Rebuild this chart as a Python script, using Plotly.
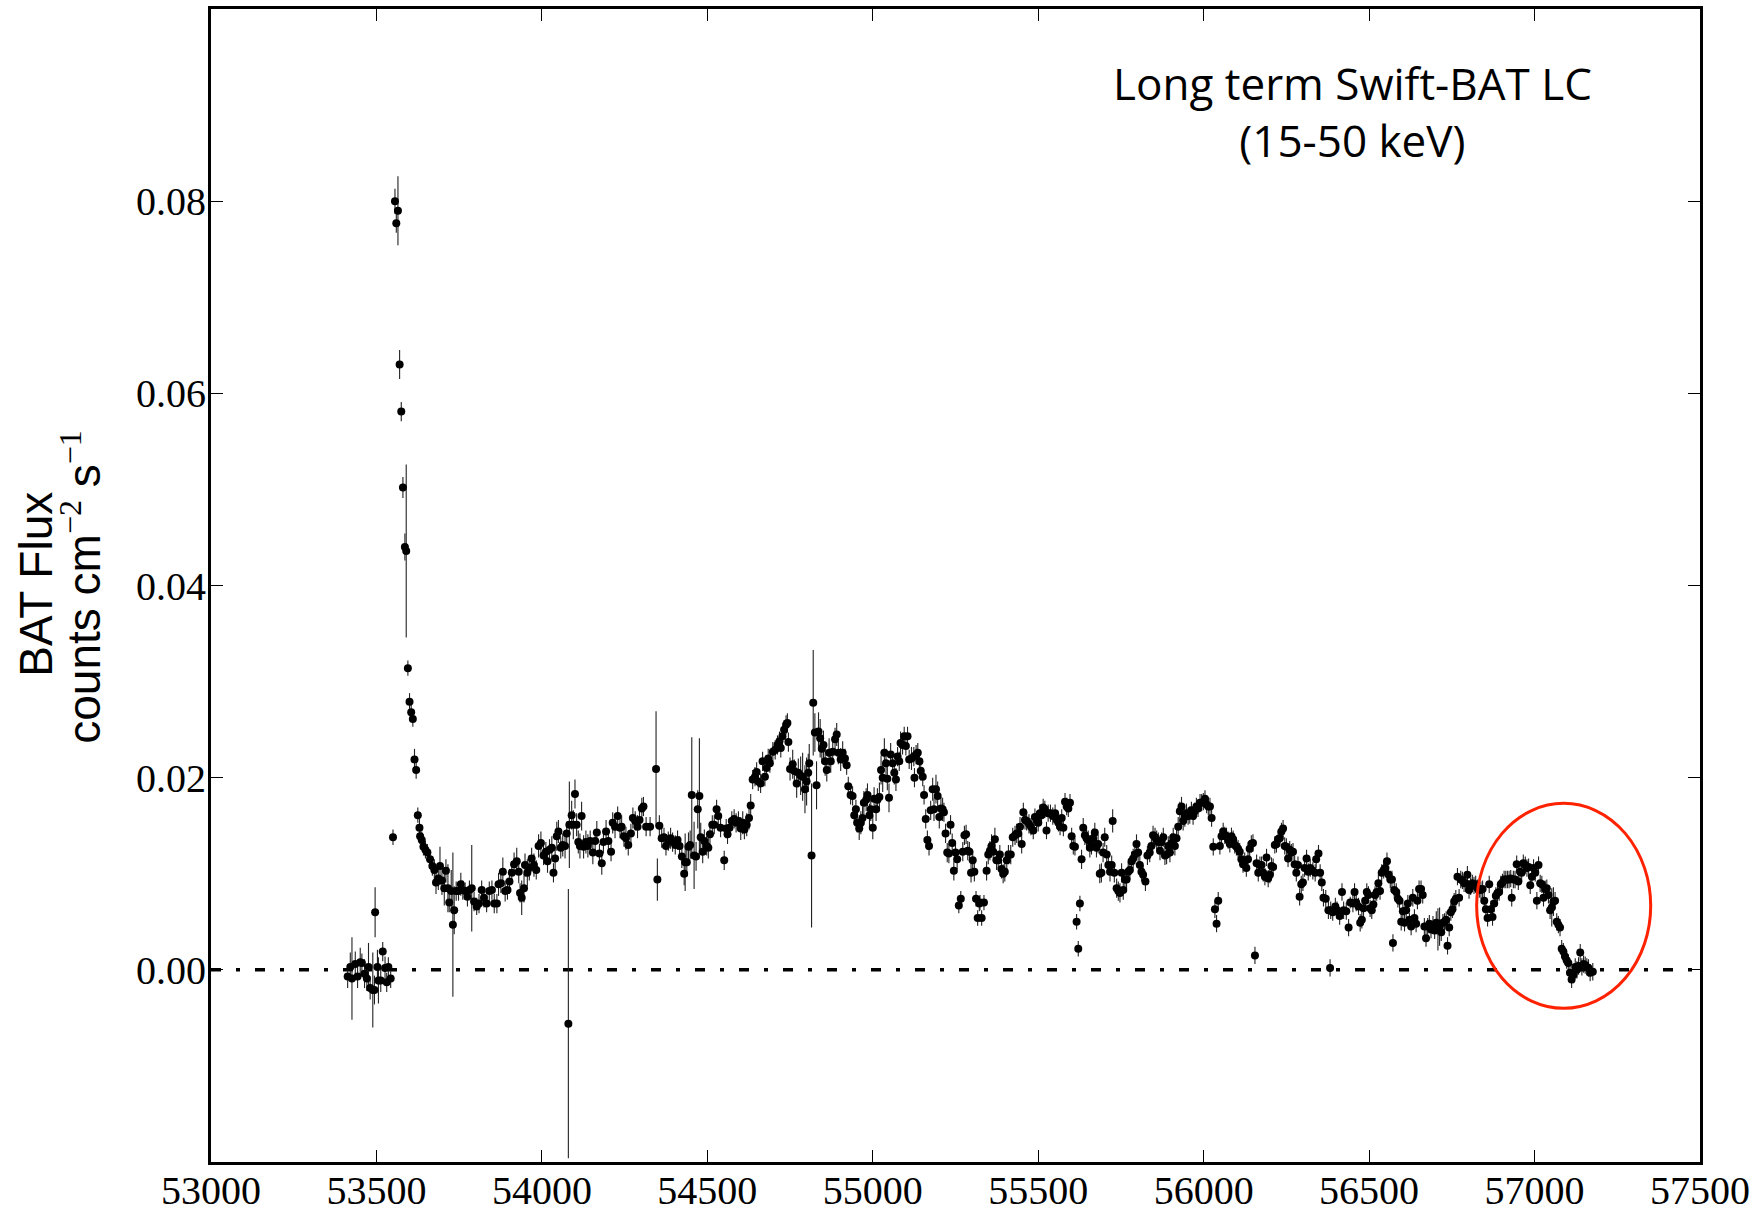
import plotly.graph_objects as go

# Swift-BAT 15-50 keV long-term light curve (MJD, flux, 1-sigma error)
mjd = [
    53413, 53421, 53426, 53436, 53443, 53451, 53456, 53464, 53471, 53476,
    53481, 53489, 53494, 53496, 53503, 53506, 53513, 53519, 53526, 53531,
    53536, 53543,
    53550, 53556, 53560, 53565, 53570, 53575, 53580, 53586, 53590,
    53595, 53600, 53605, 53610, 53615, 53620, 53625, 53630, 53632, 53637,
    53642, 53648, 53654, 53662, 53669, 53675, 53680, 53687, 53692, 53698,
    53705, 53710, 53716, 53720, 53726, 53731, 53735, 53741, 53748, 53755,
    53761, 53768, 53775, 53781, 53788, 53795, 53803, 53810, 53818, 53825,
    53833, 53841, 53849, 53856, 53864, 53869, 53876, 53882, 53889, 53896,
    53902, 53909, 53916, 53924, 53930, 53934, 53939, 53946, 53949, 53956,
    53962, 53969, 53976, 53983, 53990, 53997, 54005, 54012, 54017, 54023,
    54030, 54035, 54040, 54045, 54050, 54057, 54063, 54070, 54075, 54080,
    54083, 54090, 54095, 54100, 54105, 54110, 54115, 54120, 54126, 54133,
    54139, 54146, 54154, 54161, 54166, 54174, 54181, 54186, 54194, 54201,
    54209, 54214, 54221, 54229, 54236, 54241, 54248, 54254, 54261, 54269,
    54275, 54282, 54289, 54295, 54302, 54307, 54315,
    54327, 54345, 54349, 54355, 54362, 54369, 54375, 54382, 54389, 54395,
    54403, 54410, 54416, 54423, 54430, 54433, 54438, 54443, 54448, 54453,
    54460, 54466, 54471, 54476, 54480, 54486, 54491, 54498, 54503, 54508,
    54515, 54521, 54528, 54533, 54540, 54551, 54557, 54561, 54567, 54574,
    54581, 54587, 54594, 54601, 54607, 54612, 54619, 54626, 54631, 54637,
    54644, 54649, 54654, 54661, 54667, 54674, 54679, 54684, 54689, 54698,
    54705, 54712, 54718, 54722, 54727, 54732, 54738, 54742, 54745, 54750,
    54758, 54763, 54770, 54775, 54782, 54788, 54795, 54800, 54805, 54808,
    54815, 54820, 54825, 54830, 54836, 54841, 54846, 54851, 54856, 54861,
    54868, 54873, 54879, 54886, 54891, 54896, 54903, 54909, 54916, 54921,
    54926, 54933, 54939, 54944, 54949, 54953, 54959, 54964, 54969, 54973,
    54980, 54984, 54990, 54994, 55000, 55004, 55010, 55014, 55020, 55025,
    55030, 55035, 55040, 55044, 55049, 55054, 55060, 55065, 55070, 55075,
    55080, 55084, 55090, 55095, 55100, 55105, 55110, 55117, 55124, 55126,
    55131, 55136, 55141, 55145, 55151, 55155, 55160, 55165, 55170, 55175,
    55181, 55185, 55191, 55196, 55201, 55206, 55211, 55215, 55220, 55225,
    55230, 55235, 55240, 55245, 55250, 55255, 55260, 55266, 55272, 55277,
    55282, 55287, 55292, 55297, 55302, 55307, 55312, 55317, 55322,
    55324, 55329, 55336, 55344, 55349, 55354, 55359, 55364, 55369, 55374,
    55379, 55384, 55389, 55394, 55399, 55405, 55410, 55417, 55423, 55430,
    55435, 55440, 55445, 55450, 55455, 55460, 55465, 55472, 55478, 55485,
    55490, 55495, 55500, 55505, 55510, 55515, 55520, 55525, 55530, 55537,
    55544, 55551, 55556, 55561, 55566, 55571, 55576, 55581, 55586, 55591,
    55596, 55601, 55606, 55611, 55616, 55621, 55626, 55631, 55636, 55641,
    55646, 55651, 55656, 55661, 55666, 55671, 55676, 55681, 55686, 55691,
    55696, 55701, 55707, 55712, 55717, 55722, 55725, 55730, 55737, 55742,
    55747, 55752, 55757, 55762, 55767, 55772, 55777, 55782, 55787, 55792,
    55797, 55802, 55807, 55812, 55817, 55824, 55830, 55837, 55842, 55847,
    55853, 55858, 55863, 55868, 55873, 55878, 55883, 55888, 55893, 55898,
    55903, 55908, 55913, 55918, 55923, 55928, 55933, 55938, 55943, 55948,
    55953, 55958, 55963, 55968, 55973, 55978, 55983, 55989, 55994, 55999,
    56004, 56009, 56014, 56019, 56024, 56029, 56034, 56039, 56044, 56049,
    56054, 56059, 56064, 56069, 56074, 56079, 56084, 56089, 56094, 56099,
    56104, 56109, 56114, 56119, 56124, 56129, 56134, 56139, 56144, 56149,
    56155, 56160, 56165, 56170, 56175, 56180, 56185, 56190, 56195, 56200,
    56205, 56210, 56215, 56220, 56225, 56230, 56235, 56240, 56245, 56250,
    56255, 56260, 56265, 56270, 56275, 56280, 56285, 56290, 56295, 56300,
    56305, 56311, 56316,
    56322, 56330, 56337, 56340, 56347, 56352, 56357, 56362, 56369, 56377,
    56382, 56384, 56390, 56398, 56403, 56411, 56418, 56423, 56431, 56438,
    56443, 56451, 56456, 56461, 56468, 56473, 56478, 56483, 56488, 56493,
    56498, 56503, 56508, 56513, 56518, 56523, 56528, 56533, 56538, 56544,
    56549, 56554, 56559, 56564, 56569, 56572, 56576, 56582, 56587, 56592,
    56597, 56602, 56607, 56612, 56617, 56622, 56627, 56632, 56637, 56642,
    56646, 56651, 56657, 56662, 56667, 56672, 56677, 56682, 56687, 56693,
    56698, 56703, 56708, 56713, 56718, 56723, 56728, 56733, 56737, 56742,
    56747, 56752, 56757, 56762, 56767, 56772, 56777, 56782, 56787, 56792,
    56797, 56802, 56807, 56812, 56817, 56822, 56827, 56833, 56838, 56843,
    56848, 56853, 56858, 56863, 56868, 56873, 56878, 56883, 56888, 56893,
    56898, 56903, 56908, 56913, 56918, 56923, 56928, 56931, 56936, 56941,
    56946, 56951, 56956, 56961, 56966, 56972, 56977, 56982, 56987, 56992,
    56997, 57002, 57007, 57012, 57017, 57022, 57027, 57032, 57037, 57042,
    57047, 57052, 57057, 57062, 57067, 57072, 57077, 57082, 57087, 57092,
    57097, 57102, 57107, 57112, 57118, 57123, 57128, 57133, 57138, 57143,
    57148, 57153, 57158, 57163, 57168, 57176,
]

flux = [
    -0.0007, 0.0003, -0.0009, 0.0006, -0.0007, 0.0008, 0.0007, -0.0004, -0.0009, 0.0003,
    -0.0019, -0.0021, -0.0021, 0.0060, 0.0003, -0.0011, -0.0011, 0.0019, 0.0002, -0.0013,
    0.0003, -0.0009,
    0.0138, 0.0800, 0.0777, 0.0790, 0.0630, 0.0581, 0.0502, 0.0440, 0.0436,
    0.0314, 0.0279, 0.0268, 0.0261, 0.0219, 0.0208, 0.0161, 0.0148, 0.0139, 0.0135,
    0.0128, 0.0125, 0.0122, 0.0115, 0.0108, 0.0104, 0.0091, 0.0095, 0.0108, 0.0093,
    0.0085, 0.0103, 0.0085, 0.0070, 0.0082, 0.0047, 0.0062, 0.0082, 0.0082, 0.0089,
    0.0083, 0.0082, 0.0076, 0.0083, 0.0085, 0.0071, 0.0066, 0.0069, 0.0083, 0.0075,
    0.0069, 0.0082, 0.0083, 0.0069, 0.0069, 0.0089, 0.0090, 0.0102, 0.0082, 0.0083,
    0.0092, 0.0101, 0.0110, 0.0113, 0.0102, 0.0080, 0.0075, 0.0085, 0.0109, 0.0101,
    0.0106, 0.0116, 0.0109, 0.0104, 0.0129, 0.0132, 0.0119, 0.0123, 0.0113, 0.0125,
    0.0127, 0.0101, 0.0116, 0.0139, 0.0144, 0.0127, 0.0130, 0.0129, 0.0142, -0.0056,
    0.0151, 0.0161, 0.0151, 0.0183, 0.0151, 0.0133, 0.0129, 0.0160, 0.0128, 0.0133,
    0.0129, 0.0134, 0.0122, 0.0134, 0.0143, 0.0121, 0.0111, 0.0133, 0.0144, 0.0134,
    0.0123, 0.0153, 0.0149, 0.0160, 0.0148, 0.0149, 0.0139, 0.0137, 0.0130, 0.0142,
    0.0158, 0.0155, 0.0149, 0.0156, 0.0168, 0.0170, 0.0149,
    0.0149, 0.0209, 0.0094, 0.0150, 0.0137, 0.0138, 0.0129, 0.0134, 0.0137, 0.0133,
    0.0130, 0.0135, 0.0129, 0.0118, 0.0100, 0.0112, 0.0112, 0.0128, 0.0130, 0.0182,
    0.0119, 0.0118, 0.0167, 0.0181, 0.0138, 0.0123, 0.0134, 0.0129, 0.0127, 0.0141,
    0.0151, 0.0151, 0.0167, 0.0160, 0.0148, 0.0114, 0.0147, 0.0141, 0.0148, 0.0155,
    0.0157, 0.0153, 0.0155, 0.0147, 0.0153, 0.0146, 0.0151, 0.0158, 0.0171, 0.0198,
    0.0201, 0.0206, 0.0196, 0.0194, 0.0217, 0.0201, 0.0210, 0.0220, 0.0215, 0.0227,
    0.0229, 0.0234, 0.0238, 0.0231, 0.0243, 0.0250, 0.0255, 0.0257, 0.0237, 0.0209,
    0.0214, 0.0207, 0.0194, 0.0205, 0.0202, 0.0201, 0.0188, 0.0196, 0.0205, 0.0215,
    0.0119, 0.0278, 0.0247, 0.0192, 0.0248, 0.0241, 0.0230, 0.0234, 0.0217, 0.0208,
    0.0226, 0.0217, 0.0227, 0.0240, 0.0245, 0.0226, 0.0219, 0.0226, 0.0220, 0.0213,
    0.0191, 0.0182, 0.0181, 0.0161, 0.0167, 0.0153, 0.0147, 0.0153, 0.0158, 0.0174,
    0.0177, 0.0182, 0.0161, 0.0167, 0.0148, 0.0178, 0.0167, 0.0177, 0.0180, 0.0208,
    0.0200, 0.0226, 0.0215, 0.0199, 0.0179, 0.0224, 0.0215, 0.0205, 0.0198, 0.0222,
    0.0217, 0.0236, 0.0234, 0.0243, 0.0233, 0.0243, 0.0219, 0.0220, 0.0222, 0.0200,
    0.0224, 0.0226, 0.0217, 0.0207, 0.0201, 0.0182, 0.0157, 0.0135, 0.0129, 0.0166,
    0.0188, 0.0167, 0.0188, 0.0181, 0.0159, 0.0168, 0.0167, 0.0164, 0.0142, 0.0122,
    0.0121, 0.0151, 0.0132, 0.0103, 0.0122, 0.0115, 0.0067, 0.0074, 0.0123, 0.0140,
    0.0141, 0.0124, 0.0123, 0.0101, 0.0114, 0.0102, 0.0074, 0.0054, 0.0069,
    0.0070, 0.0054, 0.0070, 0.0103, 0.0120, 0.0124, 0.0129, 0.0123, 0.0136, 0.0114,
    0.0114, 0.0120, 0.0105, 0.0100, 0.0102, 0.0114, 0.0120, 0.0120, 0.0138, 0.0140,
    0.0142, 0.0142, 0.0149, 0.0131, 0.0164, 0.0156, 0.0155, 0.0152, 0.0149, 0.0145,
    0.0159, 0.0156, 0.0153, 0.0163, 0.0161, 0.0169, 0.0167, 0.0145, 0.0163, 0.0163,
    0.0160, 0.0163, 0.0156, 0.0153, 0.0149, 0.0158, 0.0148, 0.0175, 0.0170, 0.0168,
    0.0174, 0.0139, 0.0129, 0.0128, 0.0050, 0.0022, 0.0069, 0.0115, 0.0148, 0.0140,
    0.0137, 0.0135, 0.0127, 0.0130, 0.0137, 0.0143, 0.0127, 0.0131, 0.0100, 0.0101,
    0.0122, 0.0138, 0.0120, 0.0109, 0.0102, 0.0109, 0.0155, 0.0101, 0.0085, 0.0082,
    0.0080, 0.0101, 0.0083, 0.0094, 0.0094, 0.0102, 0.0104, 0.0113, 0.0116, 0.0120,
    0.0131, 0.0122, 0.0109, 0.0102, 0.0099, 0.0092, 0.0119, 0.0122, 0.0129, 0.0140,
    0.0138, 0.0135, 0.0133, 0.0124, 0.0133, 0.0138, 0.0119, 0.0120, 0.0129, 0.0122,
    0.0132, 0.0138, 0.0129, 0.0137, 0.0149, 0.0165, 0.0170, 0.0155, 0.0159, 0.0163,
    0.0160, 0.0161, 0.0166, 0.0160, 0.0165, 0.0170, 0.0168, 0.0174, 0.0174, 0.0175,
    0.0178, 0.0172, 0.0170, 0.0170, 0.0158, 0.0128, 0.0063, 0.0048, 0.0072, 0.0129,
    0.0139, 0.0144, 0.0140, 0.0139, 0.0135, 0.0131, 0.0139, 0.0136, 0.0130, 0.0128,
    0.0126, 0.0123, 0.0115, 0.0110, 0.0113, 0.0106, 0.0115, 0.0126, 0.0131, 0.0132,
    0.0015, 0.0111, 0.0101, 0.0109, 0.0109, 0.0101, 0.0097, 0.0117, 0.0095, 0.0099,
    0.0108, 0.0107, 0.0130, 0.0131, 0.0136, 0.0137, 0.0144, 0.0147, 0.0129, 0.0128,
    0.0116, 0.0125, 0.0122, 0.0123, 0.0110, 0.0101, 0.0109, 0.0076, 0.0089, 0.0091,
    0.0106, 0.0116, 0.0102,
    0.0106, 0.0103, 0.0101, 0.0115, 0.0121, 0.0101, 0.0091, 0.0075, 0.0074, 0.0062,
    0.0002, 0.0062, 0.0060, 0.0066, 0.0062, 0.0056, 0.0081, 0.0062, 0.0061, 0.0044,
    0.0070, 0.0069, 0.0081, 0.0070, 0.0066, 0.0049, 0.0052, 0.0064, 0.0072, 0.0081,
    0.0078, 0.0064, 0.0062, 0.0068, 0.0078, 0.0081, 0.0090, 0.0082, 0.0101, 0.0104,
    0.0106, 0.0113, 0.0099, 0.0094, 0.0094, 0.0028, 0.0083, 0.0081, 0.0074, 0.0072,
    0.0050, 0.0061, 0.0049, 0.0062, 0.0069, 0.0052, 0.0045, 0.0075, 0.0054, 0.0048,
    0.0072, 0.0084, 0.0084, 0.0078, 0.0045, 0.0033, 0.0045, 0.0048, 0.0042, 0.0047,
    0.0041, 0.0049, 0.0042, 0.0045, 0.0039, 0.0049, 0.0050, 0.0052, 0.0025, 0.0044,
    0.0060, 0.0063, 0.0071, 0.0074, 0.0097, 0.0075, 0.0094, 0.0093, 0.0090, 0.0090,
    0.0099, 0.0083, 0.0087, 0.0090, 0.0088, 0.0089, 0.0085, 0.0084, 0.0083, 0.0084,
    0.0072, 0.0063, 0.0054, 0.0089, 0.0063, 0.0055, 0.0069, 0.0077, 0.0080, 0.0081,
    0.0089, 0.0091, 0.0094, 0.0094, 0.0094, 0.0094, 0.0095, 0.0075, 0.0094, 0.0094,
    0.0110, 0.0092, 0.0102, 0.0101, 0.0111, 0.0109, 0.0106, 0.0107, 0.0088, 0.0097,
    0.0106, 0.0101, 0.0072, 0.0109, 0.0090, 0.0089, 0.0075, 0.0084, 0.0085, 0.0078,
    0.0062, 0.0065, 0.0071, 0.0072, 0.0050, 0.0047, 0.0044, 0.0022, 0.0019, 0.0014,
    0.0010, 0.0007, -0.0003, -0.0010, -0.0005, 0.0003, 0.0000, 0.0004, 0.0018, 0.0003,
    0.0006, 0.0005, 0.0003, 0.0002, -0.0003, -0.0002,
]

flux_err = [
    0.0012, 0.0015, 0.0043, 0.0013, 0.0012, 0.0015, 0.0010, 0.0015, 0.0013, 0.0025,
    0.0012, 0.0039, 0.0015, 0.0026, 0.0018, 0.0024, 0.0012, 0.0010, 0.0012, 0.0010,
    0.0010, 0.0010,
    0.0008, 0.0013, 0.0010, 0.0036, 0.0015, 0.0010, 0.0011, 0.0014, 0.0090,
    0.0008, 0.0009, 0.0008, 0.0008, 0.0011, 0.0009, 0.0008, 0.0009, 0.0008, 0.0009,
    0.0009, 0.0009, 0.0009, 0.0010, 0.0010, 0.0011, 0.0012, 0.0012, 0.0020, 0.0015,
    0.0018, 0.0012, 0.0025, 0.0010, 0.0022, 0.0075, 0.0025, 0.0010, 0.0010, 0.0012,
    0.0010, 0.0009, 0.0010, 0.0010, 0.0045, 0.0010, 0.0009, 0.0010, 0.0010, 0.0010,
    0.0009, 0.0010, 0.0010, 0.0010, 0.0010, 0.0012, 0.0010, 0.0015, 0.0011, 0.0010,
    0.0013, 0.0010, 0.0012, 0.0014, 0.0012, 0.0010, 0.0018, 0.0015, 0.0012, 0.0014,
    0.0013, 0.0011, 0.0012, 0.0010, 0.0012, 0.0012, 0.0010, 0.0010, 0.0012, 0.0011,
    0.0012, 0.0010, 0.0012, 0.0015, 0.0012, 0.0011, 0.0012, 0.0013, 0.0012, 0.0140,
    0.0045, 0.0015, 0.0015, 0.0015, 0.0012, 0.0012, 0.0013, 0.0015, 0.0012, 0.0012,
    0.0012, 0.0011, 0.0012, 0.0012, 0.0012, 0.0010, 0.0012, 0.0012, 0.0012, 0.0011,
    0.0010, 0.0011, 0.0012, 0.0010, 0.0011, 0.0012, 0.0011, 0.0012, 0.0011, 0.0010,
    0.0011, 0.0010, 0.0012, 0.0010, 0.0011, 0.0010, 0.0010,
    0.0010, 0.0060, 0.0022, 0.0011, 0.0010, 0.0010, 0.0010, 0.0010, 0.0011, 0.0010,
    0.0010, 0.0010, 0.0010, 0.0012, 0.0012, 0.0030, 0.0015, 0.0015, 0.0015, 0.0060,
    0.0035, 0.0015, 0.0020, 0.0060, 0.0015, 0.0012, 0.0012, 0.0010, 0.0011, 0.0010,
    0.0010, 0.0010, 0.0010, 0.0010, 0.0010, 0.0010, 0.0010, 0.0010, 0.0010, 0.0010,
    0.0010, 0.0010, 0.0010, 0.0012, 0.0012, 0.0010, 0.0012, 0.0012, 0.0012, 0.0010,
    0.0010, 0.0010, 0.0010, 0.0010, 0.0010, 0.0010, 0.0010, 0.0010, 0.0010, 0.0010,
    0.0010, 0.0010, 0.0010, 0.0010, 0.0010, 0.0010, 0.0010, 0.0010, 0.0010, 0.0012,
    0.0015, 0.0012, 0.0015, 0.0015, 0.0020, 0.0025, 0.0025, 0.0025, 0.0020, 0.0020,
    0.0075, 0.0055, 0.0020, 0.0025, 0.0020, 0.0020, 0.0015, 0.0015, 0.0015, 0.0012,
    0.0015, 0.0012, 0.0012, 0.0012, 0.0012, 0.0012, 0.0012, 0.0012, 0.0010, 0.0010,
    0.0010, 0.0010, 0.0010, 0.0010, 0.0010, 0.0010, 0.0012, 0.0012, 0.0012, 0.0012,
    0.0012, 0.0012, 0.0012, 0.0012, 0.0012, 0.0012, 0.0012, 0.0012, 0.0015, 0.0015,
    0.0015, 0.0015, 0.0015, 0.0012, 0.0015, 0.0012, 0.0012, 0.0012, 0.0012, 0.0010,
    0.0010, 0.0012, 0.0010, 0.0010, 0.0010, 0.0010, 0.0010, 0.0012, 0.0010, 0.0010,
    0.0010, 0.0010, 0.0010, 0.0010, 0.0010, 0.0010, 0.0010, 0.0010, 0.0010, 0.0010,
    0.0012, 0.0012, 0.0015, 0.0015, 0.0012, 0.0012, 0.0012, 0.0010, 0.0010, 0.0010,
    0.0010, 0.0010, 0.0010, 0.0010, 0.0010, 0.0010, 0.0008, 0.0008, 0.0010, 0.0010,
    0.0010, 0.0010, 0.0010, 0.0010, 0.0010, 0.0010, 0.0008, 0.0008, 0.0008,
    0.0008, 0.0008, 0.0008, 0.0010, 0.0010, 0.0010, 0.0012, 0.0010, 0.0012, 0.0010,
    0.0010, 0.0010, 0.0010, 0.0010, 0.0010, 0.0010, 0.0010, 0.0010, 0.0010, 0.0010,
    0.0010, 0.0010, 0.0010, 0.0010, 0.0010, 0.0010, 0.0010, 0.0010, 0.0009, 0.0009,
    0.0009, 0.0009, 0.0009, 0.0009, 0.0009, 0.0009, 0.0009, 0.0009, 0.0009, 0.0009,
    0.0009, 0.0009, 0.0009, 0.0009, 0.0009, 0.0009, 0.0009, 0.0009, 0.0009, 0.0009,
    0.0009, 0.0009, 0.0009, 0.0009, 0.0008, 0.0008, 0.0008, 0.0010, 0.0010, 0.0010,
    0.0010, 0.0010, 0.0010, 0.0010, 0.0010, 0.0010, 0.0010, 0.0010, 0.0010, 0.0010,
    0.0010, 0.0010, 0.0010, 0.0010, 0.0010, 0.0010, 0.0012, 0.0010, 0.0010, 0.0010,
    0.0010, 0.0010, 0.0010, 0.0010, 0.0010, 0.0010, 0.0010, 0.0010, 0.0010, 0.0010,
    0.0010, 0.0010, 0.0010, 0.0010, 0.0010, 0.0010, 0.0010, 0.0010, 0.0010, 0.0010,
    0.0010, 0.0010, 0.0010, 0.0010, 0.0010, 0.0010, 0.0010, 0.0010, 0.0010, 0.0010,
    0.0010, 0.0010, 0.0010, 0.0010, 0.0010, 0.0010, 0.0010, 0.0010, 0.0010, 0.0010,
    0.0009, 0.0009, 0.0009, 0.0009, 0.0009, 0.0009, 0.0009, 0.0009, 0.0009, 0.0009,
    0.0009, 0.0009, 0.0009, 0.0009, 0.0009, 0.0009, 0.0009, 0.0009, 0.0009, 0.0009,
    0.0009, 0.0009, 0.0009, 0.0009, 0.0009, 0.0009, 0.0009, 0.0009, 0.0009, 0.0009,
    0.0009, 0.0009, 0.0009, 0.0009, 0.0009, 0.0009, 0.0009, 0.0009, 0.0009, 0.0009,
    0.0009, 0.0009, 0.0009, 0.0009, 0.0009, 0.0009, 0.0009, 0.0009, 0.0009, 0.0009,
    0.0009, 0.0009, 0.0009, 0.0009, 0.0009, 0.0009, 0.0009, 0.0009, 0.0009, 0.0009,
    0.0009, 0.0009, 0.0009, 0.0009, 0.0009, 0.0009, 0.0009, 0.0009, 0.0009, 0.0009,
    0.0009, 0.0009, 0.0009, 0.0009, 0.0009, 0.0009, 0.0009, 0.0009, 0.0009, 0.0009,
    0.0009, 0.0009, 0.0009,
    0.0009, 0.0009, 0.0009, 0.0009, 0.0009, 0.0009, 0.0009, 0.0009, 0.0009, 0.0009,
    0.0006, 0.0009, 0.0009, 0.0009, 0.0009, 0.0009, 0.0009, 0.0009, 0.0009, 0.0009,
    0.0009, 0.0009, 0.0009, 0.0009, 0.0009, 0.0009, 0.0009, 0.0009, 0.0009, 0.0009,
    0.0009, 0.0009, 0.0009, 0.0009, 0.0009, 0.0009, 0.0009, 0.0009, 0.0009, 0.0009,
    0.0009, 0.0009, 0.0009, 0.0009, 0.0009, 0.0007, 0.0009, 0.0009, 0.0009, 0.0009,
    0.0009, 0.0009, 0.0009, 0.0009, 0.0009, 0.0009, 0.0009, 0.0009, 0.0009, 0.0009,
    0.0009, 0.0012, 0.0022, 0.0020, 0.0009, 0.0009, 0.0009, 0.0009, 0.0009, 0.0009,
    0.0009, 0.0009, 0.0009, 0.0009, 0.0009, 0.0009, 0.0009, 0.0009, 0.0009, 0.0009,
    0.0009, 0.0009, 0.0009, 0.0009, 0.0009, 0.0009, 0.0009, 0.0009, 0.0009, 0.0009,
    0.0009, 0.0009, 0.0009, 0.0009, 0.0009, 0.0009, 0.0009, 0.0009, 0.0009, 0.0009,
    0.0009, 0.0009, 0.0009, 0.0009, 0.0009, 0.0009, 0.0009, 0.0009, 0.0009, 0.0009,
    0.0009, 0.0009, 0.0009, 0.0009, 0.0009, 0.0009, 0.0009, 0.0009, 0.0009, 0.0009,
    0.0009, 0.0009, 0.0009, 0.0009, 0.0009, 0.0009, 0.0009, 0.0009, 0.0009, 0.0009,
    0.0009, 0.0020, 0.0015, 0.0009, 0.0009, 0.0009, 0.0009, 0.0009, 0.0009, 0.0009,
    0.0009, 0.0009, 0.0009, 0.0009, 0.0009, 0.0009, 0.0009, 0.0009, 0.0009, 0.0009,
    0.0009, 0.0009, 0.0009, 0.0009, 0.0009, 0.0009, 0.0009, 0.0009, 0.0009, 0.0009,
    0.0009, 0.0009, 0.0009, 0.0009, 0.0009, 0.0016,
]

x_ticks = [53000, 53500, 54000, 54500, 55000, 55500, 56000, 56500, 57000, 57500]
y_ticks = [0.00, 0.02, 0.04, 0.06, 0.08]
y_tick_text = ["0.00", "0.02", "0.04", "0.06", "0.08"]
x_range = [53000, 57500]
y_range = [-0.02, 0.10]

# highlighted decline at the end of the light curve (centre, half-widths)
ring_mjd, ring_flux = 57088, 0.00666
ring_dx, ring_dy = 263, 0.01067

fig = go.Figure()

fig.add_trace(go.Scatter(
    x=mjd, y=flux,
    mode="markers",
    marker=dict(color="black", size=8, line=dict(width=0)),
    error_y=dict(type="data", array=flux_err, visible=True,
                 color="#222222", thickness=1.1, width=0),
    showlegend=False,
    hoverinfo="x+y",
))

# zero-flux reference (dash-dot)
fig.add_shape(type="line", xref="paper", yref="y", x0=0, x1=1, y0=0, y1=0,
              line=dict(color="black", width=3.5, dash="10px,15px,4px,15px"),
              layer="below")

# red ring around the final drop
fig.add_shape(type="circle", xref="x", yref="y",
              x0=ring_mjd - ring_dx, x1=ring_mjd + ring_dx,
              y0=ring_flux - ring_dy, y1=ring_flux + ring_dy,
              line=dict(color="#ff2200", width=3))

serif = "Liberation Serif, Times New Roman, serif"
sans = "Liberation Sans, Arial, sans-serif"

axis_common = dict(
    showline=True, linecolor="black", linewidth=3, mirror="ticks",
    ticks="inside", ticklen=12, tickwidth=1.2, tickcolor="black",
    showgrid=False, zeroline=False, automargin=False,
    tickfont=dict(family=serif, size=40, color="black"),
)

fig.update_xaxes(range=x_range, tickvals=x_ticks,
                 ticktext=[str(v) for v in x_ticks],
                 ticklabelstandoff=-9, **axis_common)
fig.update_yaxes(range=y_range, tickvals=y_ticks, ticktext=y_tick_text,
                 ticklabelstandoff=-6, **axis_common)

sup_style = "font-family:Liberation Serif;font-size:32px"
annotations = [
    dict(text="Long term Swift-BAT LC<br>(15-50 keV)", x=0.7667, y=0.9113,
         font=dict(family="Open Sans, sans-serif", size=44, color="black")),
    dict(text="BAT Flux", x=-0.1174, y=0.5009, textangle=-90,
         font=dict(family=sans, size=46, color="black")),
    dict(text=f"counts cm<sup><span style='{sup_style}'>−2</span></sup> "
              f"s<sup><span style='{sup_style}'>−1</span></sup>",
         x=-0.0875, y=0.4987, textangle=-90,
         font=dict(family=sans, size=46, color="black")),
]
for a in annotations:
    fig.add_annotation(xref="paper", yref="paper", showarrow=False,
                       xanchor="center", yanchor="middle", **a)

fig.update_layout(
    width=1754, height=1215,
    margin=dict(l=211, r=54, t=9, b=53, pad=0),
    paper_bgcolor="white", plot_bgcolor="white",
)

fig.write_html("out.html")
